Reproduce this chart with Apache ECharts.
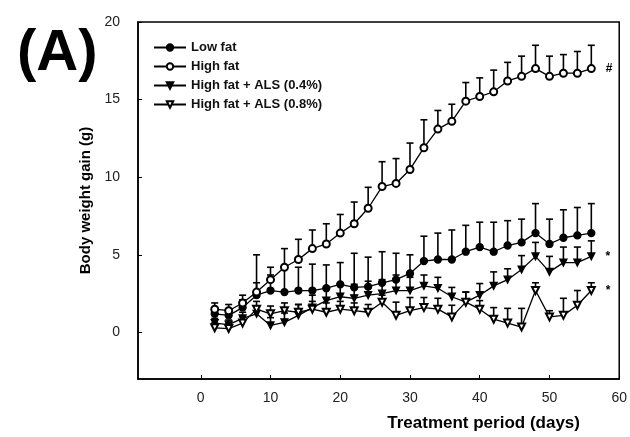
<!DOCTYPE html>
<html>
<head>
<meta charset="utf-8">
<script src="https://cdn.jsdelivr.net/npm/echarts@6/dist/echarts.min.js"></script>
<style>
  html, body { margin: 0; padding: 0; background: #fff; }
  #chart { width: 630px; height: 437px; }
</style>
</head>
<body>
<div id="chart"></div>
<script>
// treatment days (every 2 days)
var days = [2, 4, 6, 8, 10, 12, 14, 16, 18, 20, 22, 24, 26, 28, 30, 32, 34, 36, 38, 40, 42, 44, 46, 48, 50, 52, 54, 56];

var lowFat = [1.2, 1.1, 1.6, 2.4, 2.7, 2.6, 2.7, 2.7, 2.85, 3.1, 2.9, 2.95, 3.2, 3.4, 3.8, 4.6, 4.7, 4.7, 5.2, 5.5, 5.2, 5.6, 5.8, 6.4, 5.7, 6.1, 6.25, 6.4];
var lowFatErr = [0.3, 0.3, 0.5, 2.6, 1.0, 1.5, 1.5, 1.7, 1.5, 1.4, 2.2, 1.9, 2.0, 1.7, 1.2, 1.6, 1.7, 1.9, 1.7, 1.6, 1.9, 1.6, 1.5, 1.9, 1.6, 1.8, 1.8, 1.9];

var highFat = [1.5, 1.4, 1.9, 2.6, 3.4, 4.2, 4.7, 5.4, 5.7, 6.4, 7.0, 8.0, 9.4, 9.6, 10.5, 11.9, 13.1, 13.6, 14.9, 15.2, 15.5, 16.2, 16.5, 17.0, 16.5, 16.7, 16.7, 17.0];
var highFatErr = [0.4, 0.4, 0.5, 0.6, 0.8, 1.2, 1.3, 1.2, 1.3, 1.2, 1.4, 1.35, 1.6, 1.6, 1.7, 1.8, 1.2, 1.1, 1.2, 1.2, 1.4, 1.2, 1.3, 1.5, 1.3, 1.2, 1.4, 1.5];

var als04 = [0.6, 0.5, 0.9, 1.2, 0.45, 0.65, 1.1, 1.6, 2.05, 2.3, 2.2, 2.4, 2.5, 2.7, 2.7, 3.0, 2.85, 2.3, 1.95, 2.4, 3.0, 3.4, 4.05, 4.9, 3.9, 4.5, 4.5, 4.9];
var als04Err = [0.3, 0.3, 0.4, 0.5, 0.5, 0.6, 0.7, 0.8, 0.8, 0.8, 0.9, 0.9, 0.9, 1.0, 0.85, 0.7, 0.7, 0.6, 0.65, 0.75, 0.9, 0.7, 0.9, 0.9, 1.0, 1.0, 1.0, 1.0];

var als08 = [0.3, 0.25, 0.6, 1.5, 1.2, 1.4, 1.3, 1.5, 1.3, 1.5, 1.4, 1.3, 1.95, 1.1, 1.4, 1.6, 1.5, 1.0, 1.95, 1.5, 0.85, 0.6, 0.35, 2.7, 1.0, 1.1, 1.75, 2.7];
var als08Err = [0.3, 0.3, 0.4, 0.5, 0.5, 0.5, 0.5, 0.5, 0.6, 0.5, 0.5, 0.5, 0.45, 0.85, 0.85, 0.65, 0.7, 0.75, 0.65, 0.55, 0.75, 0.95, 1.2, 0.5, 0.4, 1.1, 0.95, 0.5];

var seriesNames = ['Low fat', 'High fat', 'High fat + ALS (0.4%)', 'High fat + ALS (0.8%)'];
var endMarks = ['', '#', '*', '*'];
var yTicks = [0, 5, 10, 15, 20];
var xTicks = [0, 10, 20, 30, 40, 50, 60];

function pairs(vals) {
    var out = [];
    for (var i = 0; i < days.length; i++) {
        out.push([days[i], vals[i]]);
    }
    return out;
}

function withErr(vals, errs) {
    var out = [];
    for (var i = 0; i < days.length; i++) {
        out.push([days[i], vals[i], errs[i]]);
    }
    return out;
}

function lineSeries(name, vals, symbol, rotate, mark) {
    var data = pairs(vals);
    if (mark) {
        var last = data.length - 1;
        data[last] = {
            value: data[last],
            label: {
                show: true, position: 'right', distance: 10, formatter: mark,
                color: '#000', fontSize: 12, fontFamily: 'Liberation Sans, Arial', fontWeight: 'bold'
            }
        };
    }
    return {
        name: name,
        type: 'line',
        data: data,
        symbol: symbol,
        symbolSize: 7,
        symbolRotate: rotate,
        showAllSymbol: true,
        z: 3,
        lineStyle: { color: '#000', width: 1.3 },
        itemStyle: { color: '#000', borderColor: '#000', borderWidth: 1.3 },
        emphasis: { disabled: true },
        animation: false
    };
}

function errSeries(vals, errs) {
    return {
        type: 'custom',
        data: withErr(vals, errs),
        z: 2,
        silent: true,
        animation: false,
        renderItem: function (params, api) {
            var x = api.value(0), y = api.value(1), e = api.value(2);
            var p0 = api.coord([x, y]);
            var p1 = api.coord([x, y + e]);
            var style = { stroke: '#000', lineWidth: 1.6 };
            return {
                type: 'group',
                children: [
                    { type: 'line', shape: { x1: p0[0], y1: p0[1], x2: p1[0], y2: p1[1] }, style: style },
                    { type: 'line', shape: { x1: p1[0] - 3.5, y1: p1[1], x2: p1[0] + 3.5, y2: p1[1] }, style: style }
                ]
            };
        }
    };
}

var chart = echarts.init(document.getElementById('chart'));
chart.setOption({
    backgroundColor: '#fff',
    animation: false,
    title: {
        text: '(A)',
        left: 12,
        top: 20,
        textStyle: { fontSize: 58, fontWeight: 'bold', fontFamily: 'Liberation Sans, Arial', color: '#000' }
    },
    legend: {
        data: seriesNames,
        orient: 'vertical',
        left: 148,
        top: 36,
        itemGap: 6,
        itemWidth: 32,
        itemHeight: 8,
        textStyle: { fontSize: 13, fontWeight: 'bold', fontFamily: 'Liberation Sans, Arial', color: '#111' }
    },
    grid: { left: 138, right: 9, top: 22, bottom: 58, show: true, borderColor: '#000', borderWidth: 1.5, containLabel: false },
    xAxis: {
        type: 'value',
        min: -9,
        max: 60,
        name: 'Treatment period (days)',
        nameLocation: 'middle',
        nameGap: 36,
        nameTextStyle: { fontSize: 17, fontWeight: 'bold', fontFamily: 'Liberation Sans, Arial', color: '#000', padding: [0, 0, 0, 210] },
        axisLine: { show: true, onZero: false, lineStyle: { color: '#000', width: 1.5 } },
        axisTick: { show: true, inside: true, length: 4, customValues: xTicks, lineStyle: { color: '#000' } },
        axisLabel: { customValues: xTicks, margin: 12, fontSize: 14, fontFamily: 'Liberation Sans, Arial', color: '#222' },
        splitLine: { show: false }
    },
    yAxis: {
        type: 'value',
        min: -3,
        max: 20,
        name: 'Body weight gain (g)',
        nameLocation: 'middle',
        nameGap: 38,
        nameTextStyle: { fontSize: 15, fontWeight: 'bold', fontFamily: 'Liberation Sans, Arial', color: '#000', padding: [0, 0, 0, 0] },
        axisLine: { show: true, onZero: false, lineStyle: { color: '#000', width: 1.5 } },
        axisTick: { show: true, inside: true, length: 4, customValues: yTicks, lineStyle: { color: '#000' } },
        axisLabel: { customValues: yTicks, margin: 18, fontSize: 14, fontFamily: 'Liberation Sans, Arial', color: '#222' },
        splitLine: { show: false }
    },
    series: [
        errSeries(lowFat, lowFatErr),
        errSeries(highFat, highFatErr),
        errSeries(als04, als04Err),
        errSeries(als08, als08Err),
        lineSeries(seriesNames[0], lowFat, 'circle', 0, endMarks[0]),
        lineSeries(seriesNames[1], highFat, 'emptyCircle', 0, endMarks[1]),
        lineSeries(seriesNames[2], als04, 'triangle', 180, endMarks[2]),
        lineSeries(seriesNames[3], als08, 'emptyTriangle', 180, endMarks[3])
    ]
});
</script>
</body>
</html>
